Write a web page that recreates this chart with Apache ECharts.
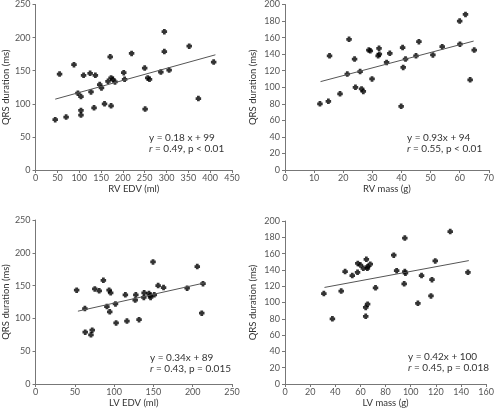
<!DOCTYPE html>
<html><head><meta charset="utf-8">
<script src="https://cdn.jsdelivr.net/npm/echarts@6/dist/echarts.min.js"></script>
<style>html,body{margin:0;padding:0;background:#fff}#c{width:497px;height:409px}</style>
</head><body><div id="c"></div>
<script>
// Panel A: RV EDV (ml) vs QRS duration (ms)
const rvEdvX = [45,55,70,88,97,104,104,104,110,125,127,134,137,147,151,158,166,171,173,173,177,182,202,204,220,250,251,257,261,287,295,295,306,352,373,408];
const rvEdvY = [76,145,80,159,116,111,90,83,143,146,118,94,143,129,124,100,134,171,139,97,137,133,147,137,176,154,92,139,137,148,179,209,151,187,108,163];
const rvEdvLineX = [45,412];
const rvEdvLineY = [107,174];
// Panel B: RV mass (g) vs QRS duration (ms)
const rvMassX = [12,14.9,15.3,18.9,21.4,22,23.9,24.2,25.8,26.3,26.9,28.8,29.3,29.9,32,32.3,32.4,34.9,36,39.9,40.4,40.6,41.4,45,46,50.8,54,60,60.1,62,63.6,65];
const rvMassY = [80,83,138,92,116,158,134,100,119,98,95,145,144,110,138,147,140,130,141,77,148,124,134,138,155,139,149,180,152,188,109,145];
const rvMassLineX = [12.2,64.8];
const rvMassLineY = [106.8,155.8];
// Panel C: LV EDV (ml) vs QRS duration (ms)
const lvEdvX = [52.3,62.8,63.2,70.5,72.1,75.4,81,86.3,90.8,93.6,94.4,95.6,101.7,102.5,114.3,116.3,126.8,127.6,131.7,137.8,138.2,144.3,145.9,146.4,149.5,151.1,156,162.9,192.9,205.8,211.5,213.1];
const lvEdvY = [143,115,79,75,82,145,142,158,118,143,110,139,122,93,136,96,128,136,98,132,139,138,135,132,186,136,150,147,146,179,108,153];
const lvEdvLineX = [53.9,214.7];
const lvEdvLineY = [111,154];
// Panel D: LV mass (g) vs QRS duration (ms)
const lvMassX = [30.9,37.7,44.7,47.8,53.5,57.7,57.9,60,62.3,64.2,64.2,64.7,65.5,65.7,65.7,67.8,72,86.5,88.8,94.8,95.3,95.3,95.8,105.7,108.6,116.1,116.9,119.5,131.4,145.5];
const lvMassY = [111,80,114,138,133,137,148,146,142,94,83,153,142,144,98,147,118,158,139,123,179,138,136,99,133,108,128,151,187,137];
const lvMassLineX = [31.4,146.2];
const lvMassLineY = [118.5,151.4];

const panels = [
  {x:rvEdvX,y:rvEdvY,lx:rvEdvLineX,ly:rvEdvLineY,xName:'RV EDV (ml)',xMax:450,xInt:50,yMax:250,yInt:50,
   grid:{left:27,top:4,width:205,height:166},eq:'y = 0.18 x + 99',r:' = 0.49, p < 0.01',tx:149,ty:132},
  {x:rvMassX,y:rvMassY,lx:rvMassLineX,ly:rvMassLineY,xName:'RV mass (g)',xMax:70,xInt:10,yMax:200,yInt:20,
   grid:{left:285,top:4,width:205,height:166},eq:'y = 0.93x + 94',r:' = 0.55, p < 0.01',tx:407,ty:132},
  {x:lvEdvX,y:lvEdvY,lx:lvEdvLineX,ly:lvEdvLineY,xName:'LV EDV (ml)',xMax:250,xInt:50,yMax:250,yInt:50,
   grid:{left:27,top:220,width:205,height:167},eq:'y = 0.34x + 89',r:' = 0.43, p = 0.015',tx:150,ty:352},
  {x:lvMassX,y:lvMassY,lx:lvMassLineX,ly:lvMassLineY,xName:'LV mass (g)',xMax:160,xInt:20,yMax:200,yInt:20,
   grid:{left:285,top:221,width:205,height:166},eq:'y = 0.42x + 100',r:' = 0.45, p = 0.018',tx:408,ty:351}
];

const FONT = 'Lato';
const axisCol = '#777';
const txtCol = '#333';
const grids=[], xAxes=[], yAxes=[], series=[], graphics=[];
const marker = 'path://M2,0H6V2H8V6H6V8H2V6H0V2H2Z';
panels.forEach((p,i)=>{
  grids.push(p.grid);
  xAxes.push({gridIndex:i,type:'value',min:0,max:p.xMax,interval:p.xInt,name:p.xName,nameLocation:'middle',nameGap:14,
    nameTextStyle:{fontFamily:FONT,fontSize:9.5,color:txtCol},
    axisLine:{lineStyle:{color:axisCol,width:1}},axisTick:{show:true,length:3,lineStyle:{color:axisCol}},
    axisLabel:{fontFamily:FONT,fontSize:9,color:'#555',margin:4},splitLine:{show:false}});
  yAxes.push({gridIndex:i,type:'value',min:0,max:p.yMax,interval:p.yInt,name:'QRS duration (ms)',nameLocation:'middle',nameGap:i%2===0?16:27,
    nameTextStyle:{fontFamily:FONT,fontSize:9.5,color:txtCol},
    axisLine:{show:true,lineStyle:{color:axisCol,width:1}},axisTick:{show:true,length:3,lineStyle:{color:axisCol}},
    axisLabel:{fontFamily:FONT,fontSize:9,color:'#555',margin:5},splitLine:{show:false}});
  series.push({type:'scatter',xAxisIndex:i,yAxisIndex:i,symbol:marker,symbolSize:5.5,
    itemStyle:{color:'#000'},data:p.x.map((v,k)=>[v,p.y[k]]),silent:true});
  series.push({type:'line',xAxisIndex:i,yAxisIndex:i,symbol:'none',lineStyle:{color:'#555',width:1},
    data:p.lx.map((v,k)=>[v,p.ly[k]]),silent:true});
  graphics.push({type:'text',left:p.tx,top:p.ty,style:{text:p.eq+'\n{i|r}'+p.r,
    rich:{i:{fontStyle:'italic',fontFamily:FONT,fontSize:10,fill:txtCol}},
    font:'10px '+FONT,fill:txtCol,lineHeight:11}});
});

const chart = echarts.init(document.getElementById('c'),null,{renderer:'canvas'});
chart.setOption({animation:false,grid:grids,xAxis:xAxes,yAxis:yAxes,series:series,graphic:graphics});
</script></body></html>
